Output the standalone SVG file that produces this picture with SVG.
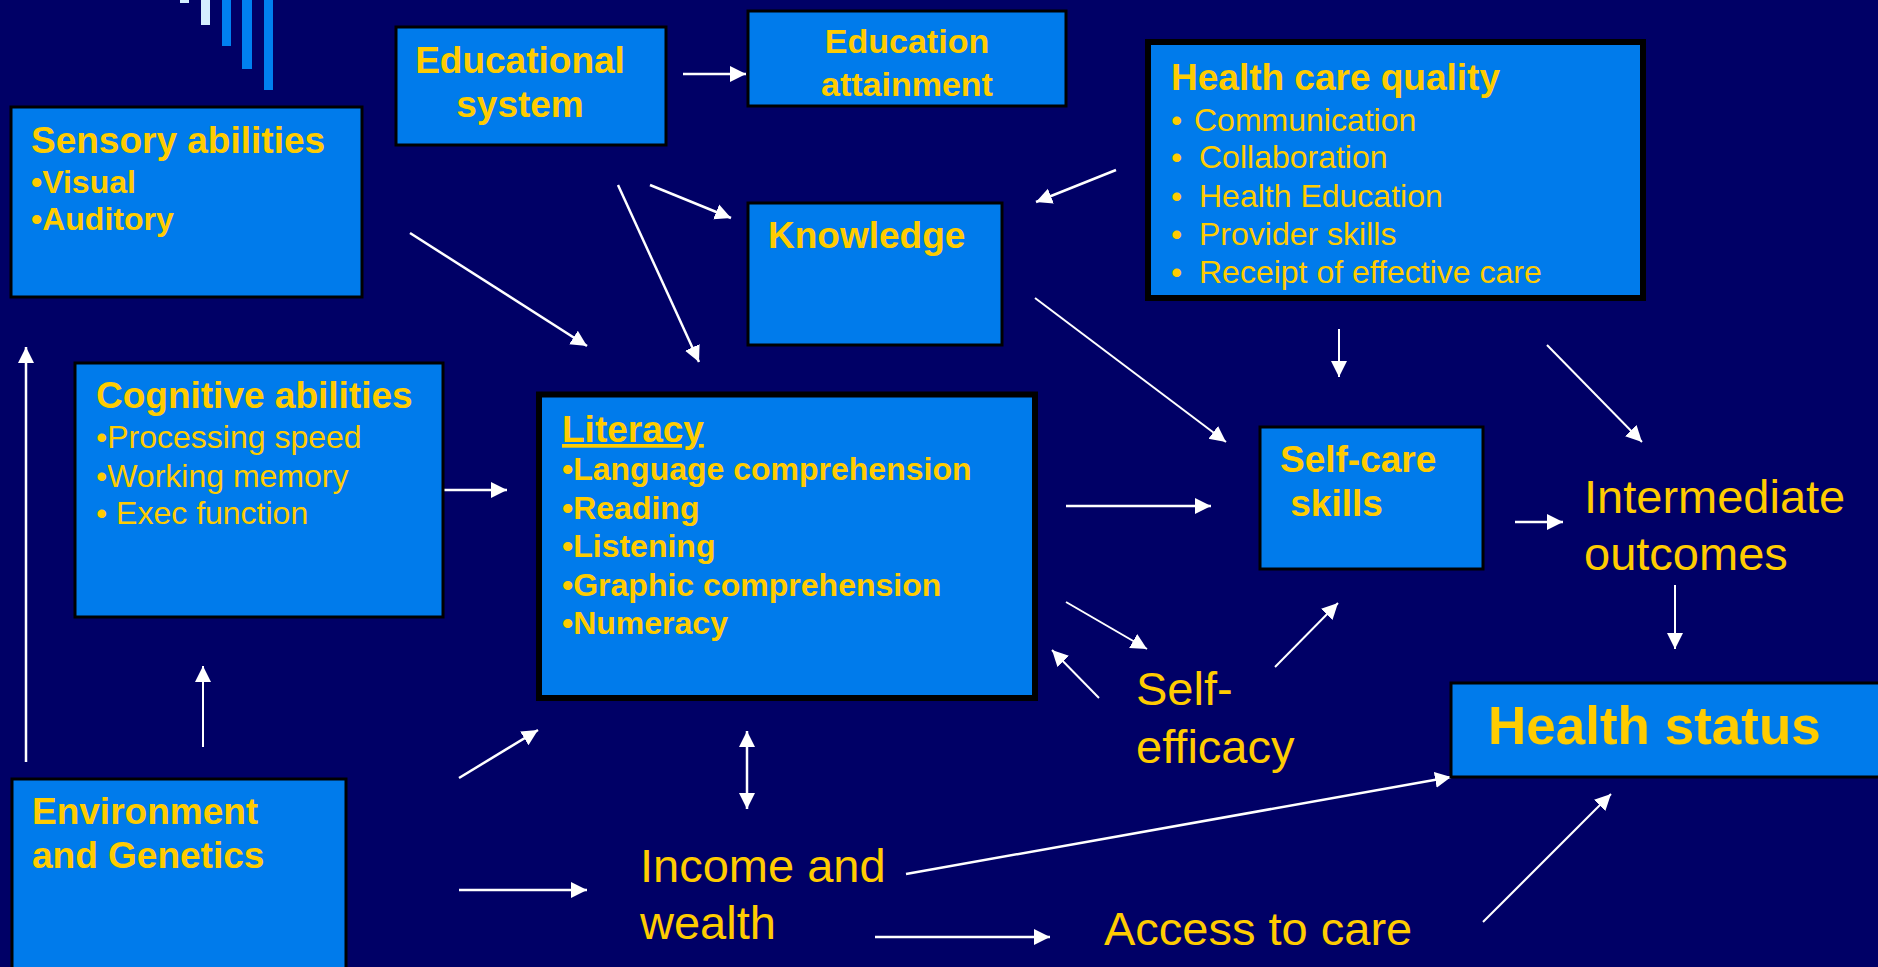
<svg xmlns="http://www.w3.org/2000/svg" width="1878" height="967" viewBox="0 0 1878 967">
<defs>
<marker id="ah" markerUnits="userSpaceOnUse" markerWidth="18" markerHeight="18" refX="16" refY="8" orient="auto-start-reverse" viewBox="0 0 18 16">
<path d="M0,0 L16,8 L0,16 z" fill="#ffffff"/>
</marker>
<style>
.bg{fill:#000066}
.box{fill:#007BEB;stroke:#000000;stroke-width:3}
.boxk{fill:#007BEB;stroke:#000000;stroke-width:6}
.t{font-family:"Liberation Sans",Arial,sans-serif;fill:#FFCC00}
.h{font-size:37px;font-weight:bold}
.bb{font-size:32px;font-weight:bold}
.br{font-size:32px}
.big{font-size:47px}
.c{stroke:#ffffff;stroke-width:2.5;fill:none;marker-end:url(#ah)}
.thin{stroke-width:2}
</style>
</defs>
<rect class="bg" x="0" y="0" width="1878" height="967"/>
<g id="decor">
<rect x="180" y="0" width="9" height="3" fill="#D4EEFF"/>
<rect x="201" y="0" width="9" height="25" fill="#D4EEFF"/>
<rect x="222" y="0" width="9" height="46" fill="#0080F0"/>
<rect x="242" y="0" width="10" height="69" fill="#0080F0"/>
<rect x="264" y="0" width="9" height="90" fill="#0080F0"/>
</g>
<g id="connectors">
<line class="c" x1="683" y1="74" x2="746" y2="74"/>
<line class="c" x1="650" y1="185" x2="731" y2="218"/>
<line class="c" x1="618" y1="185" x2="699" y2="362"/>
<line class="c" x1="410" y1="233" x2="587" y2="346"/>
<line class="c" x1="1116" y1="170" x2="1036" y2="202"/>
<line class="c thin" x1="1035" y1="298" x2="1226" y2="442"/>
<line class="c thin" x1="1339" y1="329" x2="1339" y2="377"/>
<line class="c thin" x1="1547" y1="345" x2="1642" y2="442"/>
<line class="c" x1="443" y1="490" x2="507" y2="490"/>
<line class="c" x1="1066" y1="506" x2="1211" y2="506"/>
<line class="c" x1="1515" y1="522" x2="1563" y2="522"/>
<line class="c thin" x1="1675" y1="585" x2="1675" y2="649"/>
<line class="c thin" x1="1066" y1="602" x2="1147" y2="649"/>
<line class="c thin" x1="1099" y1="698" x2="1052" y2="650"/>
<line class="c thin" x1="1275" y1="667" x2="1338" y2="603"/>
<line class="c" x1="26" y1="762" x2="26" y2="347"/>
<line class="c thin" x1="203" y1="747" x2="203" y2="666"/>
<line class="c" x1="459" y1="778" x2="538" y2="730"/>
<line class="c" x1="459" y1="890" x2="587" y2="890"/>
<line class="c" x1="747" y1="731" x2="747" y2="809" marker-start="url(#ah)"/>
<line class="c" x1="906" y1="874" x2="1451" y2="777"/>
<line class="c" x1="875" y1="937" x2="1050" y2="937"/>
<line class="c thin" x1="1483" y1="922" x2="1611" y2="794"/>
</g>
<g id="sensory">
<rect class="box" x="11" y="107" width="351" height="190"/>
<text class="t h" x="31" y="153">Sensory abilities</text>
<text class="t bb" x="31" y="193">•Visual</text>
<text class="t bb" x="31" y="230">•Auditory</text>
</g>
<g id="educational-system">
<rect class="box" x="396" y="27" width="270" height="118"/>
<text class="t h" x="520" y="73" text-anchor="middle">Educational</text>
<text class="t h" x="520" y="117" text-anchor="middle">system</text>
</g>
<g id="education-attainment">
<rect class="box" x="748" y="11" width="318" height="95"/>
<text class="t" x="907" y="53" text-anchor="middle" font-size="34" font-weight="bold">Education</text>
<text class="t" x="907" y="96" text-anchor="middle" font-size="34" font-weight="bold">attainment</text>
</g>
<g id="health-care-quality">
<rect class="boxk" x="1148" y="42" width="495" height="256"/>
<text class="t h" x="1171" y="90">Health care quality</text>
<text class="t br" x="1171" y="131">• <tspan x="1194">Communication</tspan></text>
<text class="t br" x="1171" y="168">• <tspan x="1199">Collaboration</tspan></text>
<text class="t br" x="1171" y="207">• <tspan x="1199">Health Education</tspan></text>
<text class="t br" x="1171" y="245">• <tspan x="1199">Provider skills</tspan></text>
<text class="t br" x="1171" y="283">• <tspan x="1199">Receipt of effective care</tspan></text>
</g>
<g id="knowledge">
<rect class="box" x="748" y="203" width="254" height="142"/>
<text class="t h" x="768" y="248">Knowledge</text>
</g>
<g id="cognitive">
<rect class="box" x="75" y="363" width="368" height="254"/>
<text class="t h" x="96" y="408">Cognitive abilities</text>
<text class="t br" x="96" y="448">•Processing speed</text>
<text class="t br" x="96" y="487">•Working memory</text>
<text class="t br" x="96" y="524">• Exec function</text>
</g>
<g id="literacy">
<rect class="boxk" x="539" y="394.5" width="496" height="303.5" stroke-width="5"/>
<text class="t h" x="562" y="442" text-decoration="underline">Literacy</text>
<text class="t bb" x="562" y="480">•Language comprehension</text>
<text class="t bb" x="562" y="519">•Reading</text>
<text class="t bb" x="562" y="557">•Listening</text>
<text class="t bb" x="562" y="596">•Graphic comprehension</text>
<text class="t bb" x="562" y="634">•Numeracy</text>
</g>
<g id="self-care">
<rect class="box" x="1260" y="427" width="223" height="142"/>
<text class="t h" x="1280" y="472">Self-care</text>
<text class="t h" x="1280" y="516" xml:space="preserve"> skills</text>
</g>
<g id="intermediate">
<text class="t big" x="1584" y="513">Intermediate</text>
<text class="t big" x="1584" y="570">outcomes</text>
</g>
<g id="self-efficacy">
<text class="t big" x="1136" y="705">Self-</text>
<text class="t big" x="1136" y="763">efficacy</text>
</g>
<g id="health-status">
<rect class="box" x="1451" y="683" width="440" height="94"/>
<text class="t" x="1488" y="744" font-size="53" font-weight="bold">Health status</text>
</g>
<g id="environment">
<rect class="box" x="12" y="779" width="334" height="200"/>
<text class="t h" x="32" y="824">Environment</text>
<text class="t h" x="32" y="868">and Genetics</text>
</g>
<g id="income">
<text class="t big" x="640" y="882">Income and</text>
<text class="t big" x="640" y="939">wealth</text>
</g>
<g id="access">
<text class="t big" x="1104" y="945">Access to care</text>
</g>
</svg>
